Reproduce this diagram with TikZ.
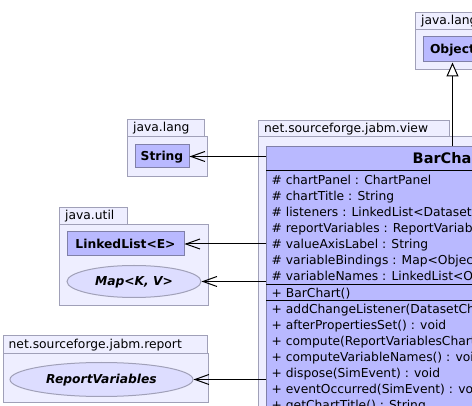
\documentclass[tikz,border=0pt]{standalone}
\usepackage{fontspec}
\setmainfont{DejaVu Sans}
\usetikzlibrary{arrows.meta,shapes.geometric}
\definecolor{pkgfill}{RGB}{238,238,255}
\definecolor{pkgline}{RGB}{160,160,184}
\definecolor{clsfill}{RGB}{185,185,255}
\definecolor{clsline}{RGB}{128,128,168}
\definecolor{ellfill}{RGB}{221,221,255}
\newcommand{\umlfont}{\fontsize{12.3}{15}\selectfont}
\tikzset{
  pkg/.style={draw=pkgline, fill=pkgfill, line width=1pt, inner sep=0pt, anchor=north west},
  pkglabel/.style={anchor=west, inner sep=0pt, font=\umlfont, text height=9pt, text depth=0pt},
  clsbox/.style={draw=clsline, fill=clsfill, line width=1pt, inner sep=0pt, font=\bfseries\umlfont, text height=9pt, text depth=0pt},
  ifcell/.style={ellipse, draw=pkgline, fill=ellfill, line width=1pt, inner sep=0pt, font=\bfseries\itshape\umlfont, text height=9pt, text depth=0pt},
  member/.style={anchor=west, inner sep=0pt, font=\umlfont, text height=9pt, text depth=0pt},
  sepline/.style={line width=1pt, draw=black},
  dep/.style={-{Straight Barb[length=14pt,width=10pt]}, line width=1pt},
  inh/.style={-{Triangle[open,length=14pt,width=12pt,fill=white]}, line width=1pt}
}
\begin{document}
\begin{tikzpicture}[x=1pt,y=-1pt]
\useasboundingbox (0,0) rectangle (472,406);
\clip (0,0) rectangle (472,406);
\fill[white] (0,0) rectangle (472,406);

% java.lang (top right)
\node[pkg, minimum width=90pt, minimum height=17pt] (jltab) at (415,12) {};
\node[pkg, minimum width=110pt, minimum height=40pt] (jlbody) at (415,29) {};
\node[pkglabel] (jllabel) at (421,20.5) {java.lang};
\node[clsbox, minimum width=58pt, minimum height=25pt] (object) at (452.5,49.5) {Object};

% net.sourceforge.jabm.view
\node[pkg, minimum width=191pt, minimum height=16pt] (viewtab) at (258,120) {};
\node[pkg, minimum width=300pt, minimum height=300pt] (viewbody) at (258,136) {};
\node[pkglabel] (viewlabel) at (264,128) {net.sourceforge.jabm.view};

% BarChart class
\node[draw=clsline, fill=clsfill, line width=1pt, anchor=north west, minimum width=372pt, minimum height=290pt, inner sep=0pt] (barchart) at (266,146) {};
\node[anchor=west, inner sep=0pt, font=\bfseries\fontsize{14.5}{17}\selectfont, text height=10.5pt, text depth=0pt] (bctitle) at (412.5,158.5) {BarChart};
\coordinate (s1l) at (266,171); \coordinate (s1r) at (638,171);
\coordinate (s2l) at (266,284.5); \coordinate (s2r) at (638,284.5);
\coordinate (s3l) at (266,301); \coordinate (s3r) at (638,301);
\draw[sepline] (s1l) -- (s1r);
\draw[sepline] (s2l) -- (s2r);
\draw[sepline] (s3l) -- (s3r);

\node[member] (a1) at (271.5,180) {\# chartPanel : ChartPanel};
\node[member] (a2) at (271.5,196) {\# chartTitle : String};
\node[member] (a3) at (271.5,212) {\# listeners : LinkedList<DatasetChangeListener>};
\node[member] (a4) at (271.5,228) {\# reportVariables : ReportVariables};
\node[member] (a5) at (271.5,244) {\# valueAxisLabel : String};
\node[member] (a6) at (271.5,260) {\# variableBindings : Map<Object, Number>};
\node[member] (a7) at (271.5,276) {\# variableNames : LinkedList<Object>};
\node[member] (c1) at (271.5,293) {+ BarChart()};
\node[member] (m1) at (271.5,309) {+ addChangeListener(DatasetChangeListener) : void};
\node[member] (m2) at (271.5,325) {+ afterPropertiesSet() : void};
\node[member] (m3) at (271.5,341) {+ compute(ReportVariablesChart) : void};
\node[member] (m4) at (271.5,357) {+ computeVariableNames() : void};
\node[member] (m5) at (271.5,373) {+ dispose(SimEvent) : void};
\node[member] (m6) at (271.5,389) {+ eventOccurred(SimEvent) : void};
\node[member] (m7) at (271.5,405) {+ getChartTitle() : String};

% java.lang (String)
\node[pkg, minimum width=77pt, minimum height=17pt] (sltab) at (127,119) {};
\node[pkg, minimum width=80pt, minimum height=40pt] (slbody) at (127,136) {};
\node[pkglabel] (sllabel) at (133,127.5) {java.lang};
\node[clsbox, minimum width=54pt, minimum height=23pt] (string) at (162,156.5) {String};

% java.util
\node[pkg, minimum width=68pt, minimum height=17pt] (jutab) at (59,207) {};
\node[pkg, minimum width=149pt, minimum height=81pt] (jubody) at (59,224) {};
\node[pkglabel] (julabel) at (65,215.5) {java.util};
\node[clsbox, minimum width=117pt, minimum height=24pt] (linkedlist) at (125.5,244) {LinkedList<E>};
\node[ifcell, minimum width=134pt, minimum height=32pt] (map) at (134,281.5) {Map<K, V>};

% net.sourceforge.jabm.report
\node[pkg, minimum width=204pt, minimum height=18pt] (rptab) at (3,335) {};
\node[pkg, minimum width=205pt, minimum height=49pt] (rpbody) at (3,353) {};
\node[pkglabel] (rplabel) at (8.5,344) {net.sourceforge.jabm.report};
\node[ifcell, minimum width=183pt, minimum height=34pt] (reportvars) at (101.5,379.5) {ReportVariables};

% connectors
\draw[inh] (barchart.north -| object.south) -- (object.south);
\draw[dep] (barchart.west |- string.east) -- (string.east);
\draw[dep] (barchart.west |- linkedlist.east) -- (linkedlist.east);
\draw[dep] (barchart.west |- map.east) -- (map.east);
\draw[dep] (barchart.west |- reportvars.east) -- (reportvars.east);
\end{tikzpicture}
\end{document}
